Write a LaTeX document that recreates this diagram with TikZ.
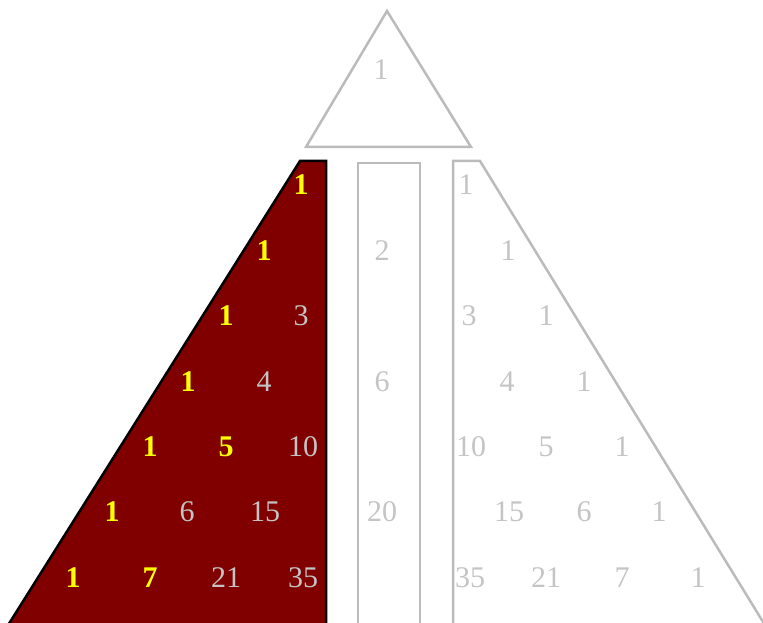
\documentclass[tikz,border=0pt]{standalone}
\usepackage{fontspec}
\setmainfont{Liberation Serif}
\definecolor{maroonfill}{HTML}{800000}
\definecolor{pale}{HTML}{BBBBBB}
\definecolor{paletext}{HTML}{C4C4C4}
\definecolor{hiyellow}{HTML}{FFFF00}
\tikzset{
  num/.style={text=paletext, font=\fontsize{30}{33}\selectfont, inner sep=0pt},
  hinum/.style={text=hiyellow, font=\fontsize{30}{33}\selectfont\bfseries, inner sep=0pt},
  outline/.style={draw=pale, line width=2.5pt, line join=miter}
}
\begin{document}
\begin{tikzpicture}[x=1pt,y=-1pt]
\useasboundingbox (0,0) rectangle (763,623);
\begin{scope}
\clip (0,0) rectangle (763,623);
% top triangle
\draw[outline] (387,11) -- (471,147) -- (306,147) -- cycle;
% left maroon piece
\draw[fill=maroonfill, draw=black, line width=2.5pt] (326,630) -- (326,161) -- (300,161) -- (5,630);
% middle column
\draw[outline] (358,630) -- (358,163) -- (420,163) -- (420,630);
% right piece
\draw[outline] (453,630) -- (453,161) -- (480,161) -- (768,630);
\end{scope}
% top
\node[num] (t0) at (381,70) {1};
% row 1
\node[hinum] (a1) at (301,185) {1};
\node[num] (b1) at (466,185) {1};
% row 2
\node[hinum] (a2) at (264,251) {1};
\node[num] (m2) at (382,251) {2};
\node[num] (b2) at (508,251) {1};
% row 3
\node[hinum] (a3) at (226,316) {1};
\node[num] (c3) at (301,316) {3};
\node[num] (d3) at (469,316) {3};
\node[num] (b3) at (546,316) {1};
% row 4
\node[hinum] (a4) at (188,382) {1};
\node[num] (c4) at (264,382) {4};
\node[num] (m4) at (382,382) {6};
\node[num] (d4) at (507,382) {4};
\node[num] (b4) at (584,382) {1};
% row 5
\node[hinum] (a5) at (150,447) {1};
\node[hinum] (c5) at (226,447) {5};
\node[num] (e5) at (303,447) {10};
\node[num] (f5) at (471,447) {10};
\node[num] (d5) at (546,447) {5};
\node[num] (b5) at (622,447) {1};
% row 6
\node[hinum] (a6) at (112,512) {1};
\node[num] (c6) at (187,512) {6};
\node[num] (e6) at (265,512) {15};
\node[num] (m6) at (382,512) {20};
\node[num] (f6) at (509,512) {15};
\node[num] (d6) at (584,512) {6};
\node[num] (b6) at (659,512) {1};
% row 7
\node[hinum] (a7) at (73,578) {1};
\node[hinum] (c7) at (150,578) {7};
\node[num] (e7) at (226,578) {21};
\node[num] (g7) at (303,578) {35};
\node[num] (h7) at (470,578) {35};
\node[num] (f7) at (546,578) {21};
\node[num] (d7) at (622,578) {7};
\node[num] (b7) at (698,578) {1};
\end{tikzpicture}
\end{document}
